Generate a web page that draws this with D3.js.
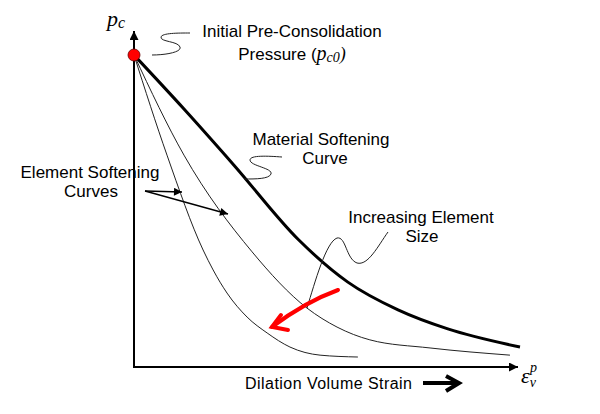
<!DOCTYPE html>
<html>
<head>
<meta charset="utf-8">
<script src="https://cdn.jsdelivr.net/npm/d3@7"></script>
<style>
  html, body { margin: 0; padding: 0; background: #fff; }
  svg { display: block; }
  text { font-family: "Liberation Sans", Arial, sans-serif; fill: #000; }
  .math { font-family: "Liberation Serif", "Times New Roman", serif; font-style: italic; }
</style>
</head>
<body>
<svg id="chart" width="600" height="414"></svg>
<script>
// ---- Data (normalised strain 0-100, pressure as % of pc0) ----
const materialStrain = [0, 12.95, 25.9, 42.7, 55.4, 68.4, 81.3, 100];
const materialPressure = [100, 82.7, 64.7, 40.7, 27.2, 18.3, 12.2, 6.4];

const elementAStrain = [0, 12.95, 30.6, 44.8, 52.6, 61.1, 76.7, 97.4];
const elementAPressure = [100, 67.9, 36.9, 18.9, 12.8, 8.7, 6.1, 3.8];

const elementBStrain = [0, 8.55, 17.9, 20.5, 24.1, 29.3, 34.5, 40.4, 48.2, 58.0];
const elementBPressure = [100, 67.9, 37.5, 31.1, 23.7, 16.0, 10.9, 6.4, 3.8, 3.2];

const initialPoint = { strain: 0, pressure: 100 };

const svg = d3.select("#chart");
const x = d3.scaleLinear().domain([0, 100]).range([134, 520]);
const y = d3.scaleLinear().domain([0, 100]).range([367, 55]);

// arrowhead markers
const defs = svg.append("defs");
defs.append("marker").attr("id", "tri").attr("viewBox", "0 0 10 10")
  .attr("refX", 10).attr("refY", 5).attr("markerWidth", 10).attr("markerHeight", 8)
  .attr("markerUnits", "userSpaceOnUse").attr("orient", "auto")
  .append("path").attr("d", "M0,0 L10,5 L0,10 Z").attr("fill", "#000");
defs.append("marker").attr("id", "axisTri").attr("viewBox", "0 0 10 10")
  .attr("refX", 10).attr("refY", 5).attr("markerWidth", 12).attr("markerHeight", 9)
  .attr("markerUnits", "userSpaceOnUse").attr("orient", "auto")
  .append("path").attr("d", "M0,0 L10,5 L0,10 Z").attr("fill", "#000");

// ---- Axes ----
svg.append("line")
  .attr("x1", x(0)).attr("y1", y(0) + 1).attr("x2", x(0)).attr("y2", 31)
  .attr("stroke", "#000").attr("stroke-width", 2).attr("marker-end", "url(#axisTri)");
svg.append("line")
  .attr("x1", x(0) - 1).attr("y1", y(0)).attr("x2", x(100) - 2).attr("y2", y(0))
  .attr("stroke", "#000").attr("stroke-width", 2).attr("marker-end", "url(#axisTri)");

// ---- Curves ----
const line = d3.line().x(d => x(d[0])).y(d => y(d[1])).curve(d3.curveMonotoneX);
const zip = (a, b) => a.map((v, i) => [v, b[i]]);

svg.append("path").attr("d", line(zip(elementBStrain, elementBPressure)))
  .attr("fill", "none").attr("stroke", "#222").attr("stroke-width", 1);
svg.append("path").attr("d", line(zip(elementAStrain, elementAPressure)))
  .attr("fill", "none").attr("stroke", "#222").attr("stroke-width", 1);
svg.append("path").attr("d", line(zip(materialStrain, materialPressure)))
  .attr("fill", "none").attr("stroke", "#000").attr("stroke-width", 3);

// ---- Squiggle connectors ----
const squiggles = [
  "M152,55 C166,55 182,52 180,47 C178,41 160,42 161,37 C162,33 178,33 190,33",
  "M282,157 C268,156 250,155 250,160 C250,166 273,168 271,174 C269,179 256,179 244,179",
  "M388,232 C378,246 368,266 357,263 C346,259 346,236 337,238 C326,242 315,282 307,308"
];
svg.selectAll("path.sq").data(squiggles).join("path").attr("class", "sq")
  .attr("d", d => d).attr("fill", "none").attr("stroke", "#222").attr("stroke-width", 1);

// Element softening pointer arrows
svg.append("line").attr("x1", 145).attr("y1", 191).attr("x2", 182).attr("y2", 192)
  .attr("stroke", "#000").attr("stroke-width", 1.3).attr("marker-end", "url(#tri)");
svg.append("line").attr("x1", 145).attr("y1", 191).attr("x2", 228).attr("y2", 214)
  .attr("stroke", "#000").attr("stroke-width", 1.3).attr("marker-end", "url(#tri)");

// Red "increasing element size" arrow
svg.append("path").attr("d", "M338,290 Q305,302 272,327")
  .attr("fill", "none").attr("stroke", "#f00").attr("stroke-width", 4).attr("stroke-linecap", "round");
svg.append("path").attr("d", "M281,315 L272,327 L288,330")
  .attr("fill", "none").attr("stroke", "#f00").attr("stroke-width", 4)
  .attr("stroke-linecap", "round").attr("stroke-linejoin", "miter");

// Strain direction arrow
svg.append("path").attr("d", "M423,383 L458,383")
  .attr("fill", "none").attr("stroke", "#000").attr("stroke-width", 4);
svg.append("path").attr("d", "M446,376 L459,383 L446,391")
  .attr("fill", "none").attr("stroke", "#000").attr("stroke-width", 4).attr("stroke-linejoin", "miter");

// Initial point
svg.append("circle").attr("cx", x(initialPoint.strain)).attr("cy", y(initialPoint.pressure))
  .attr("r", 6).attr("fill", "#f00").attr("stroke", "#600").attr("stroke-width", 0.8);

// ---- Text ----
function label(xp, yp, str, size) {
  return svg.append("text").attr("x", xp).attr("y", yp).attr("text-anchor", "middle")
    .attr("font-size", size || 17).text(str);
}
label(292, 37, "Initial Pre-Consolidation");
const t2 = svg.append("text").attr("x", 292).attr("y", 60).attr("text-anchor", "middle").attr("font-size", 17);
t2.append("tspan").text("Pressure (");
t2.append("tspan").attr("class", "math").attr("font-size", 20).text("p");
t2.append("tspan").attr("class", "math").attr("font-size", 14).attr("dy", 2).text("c0");
t2.append("tspan").attr("class", "math").attr("font-size", 18).attr("dy", -2).text(")");

label(321, 145, "Material Softening");
label(325, 164, "Curve");
label(90, 178, "Element Softening");
label(91, 197, "Curves");
label(421, 223, "Increasing Element");
label(422, 242, "Size");

svg.append("text").attr("x", 245).attr("y", 389).attr("font-size", 16)
  .attr("textLength", 167).attr("lengthAdjust", "spacing").text("Dilation Volume Strain");

// axis symbols
const yl = svg.append("text").attr("x", 107).attr("y", 26).attr("class", "math");
yl.append("tspan").attr("font-size", 22).text("p");
yl.append("tspan").attr("font-size", 16).attr("dy", 2).text("c");

const xl = svg.append("text").attr("x", 521).attr("y", 383).attr("class", "math");
xl.append("tspan").attr("font-size", 22).text("ε");
xl.append("tspan").attr("font-size", 14).attr("dx", 0).attr("dy", 4).text("v");
xl.append("tspan").attr("font-size", 14).attr("dx", -6).attr("dy", -15).text("p");
</script>
</body>
</html>
